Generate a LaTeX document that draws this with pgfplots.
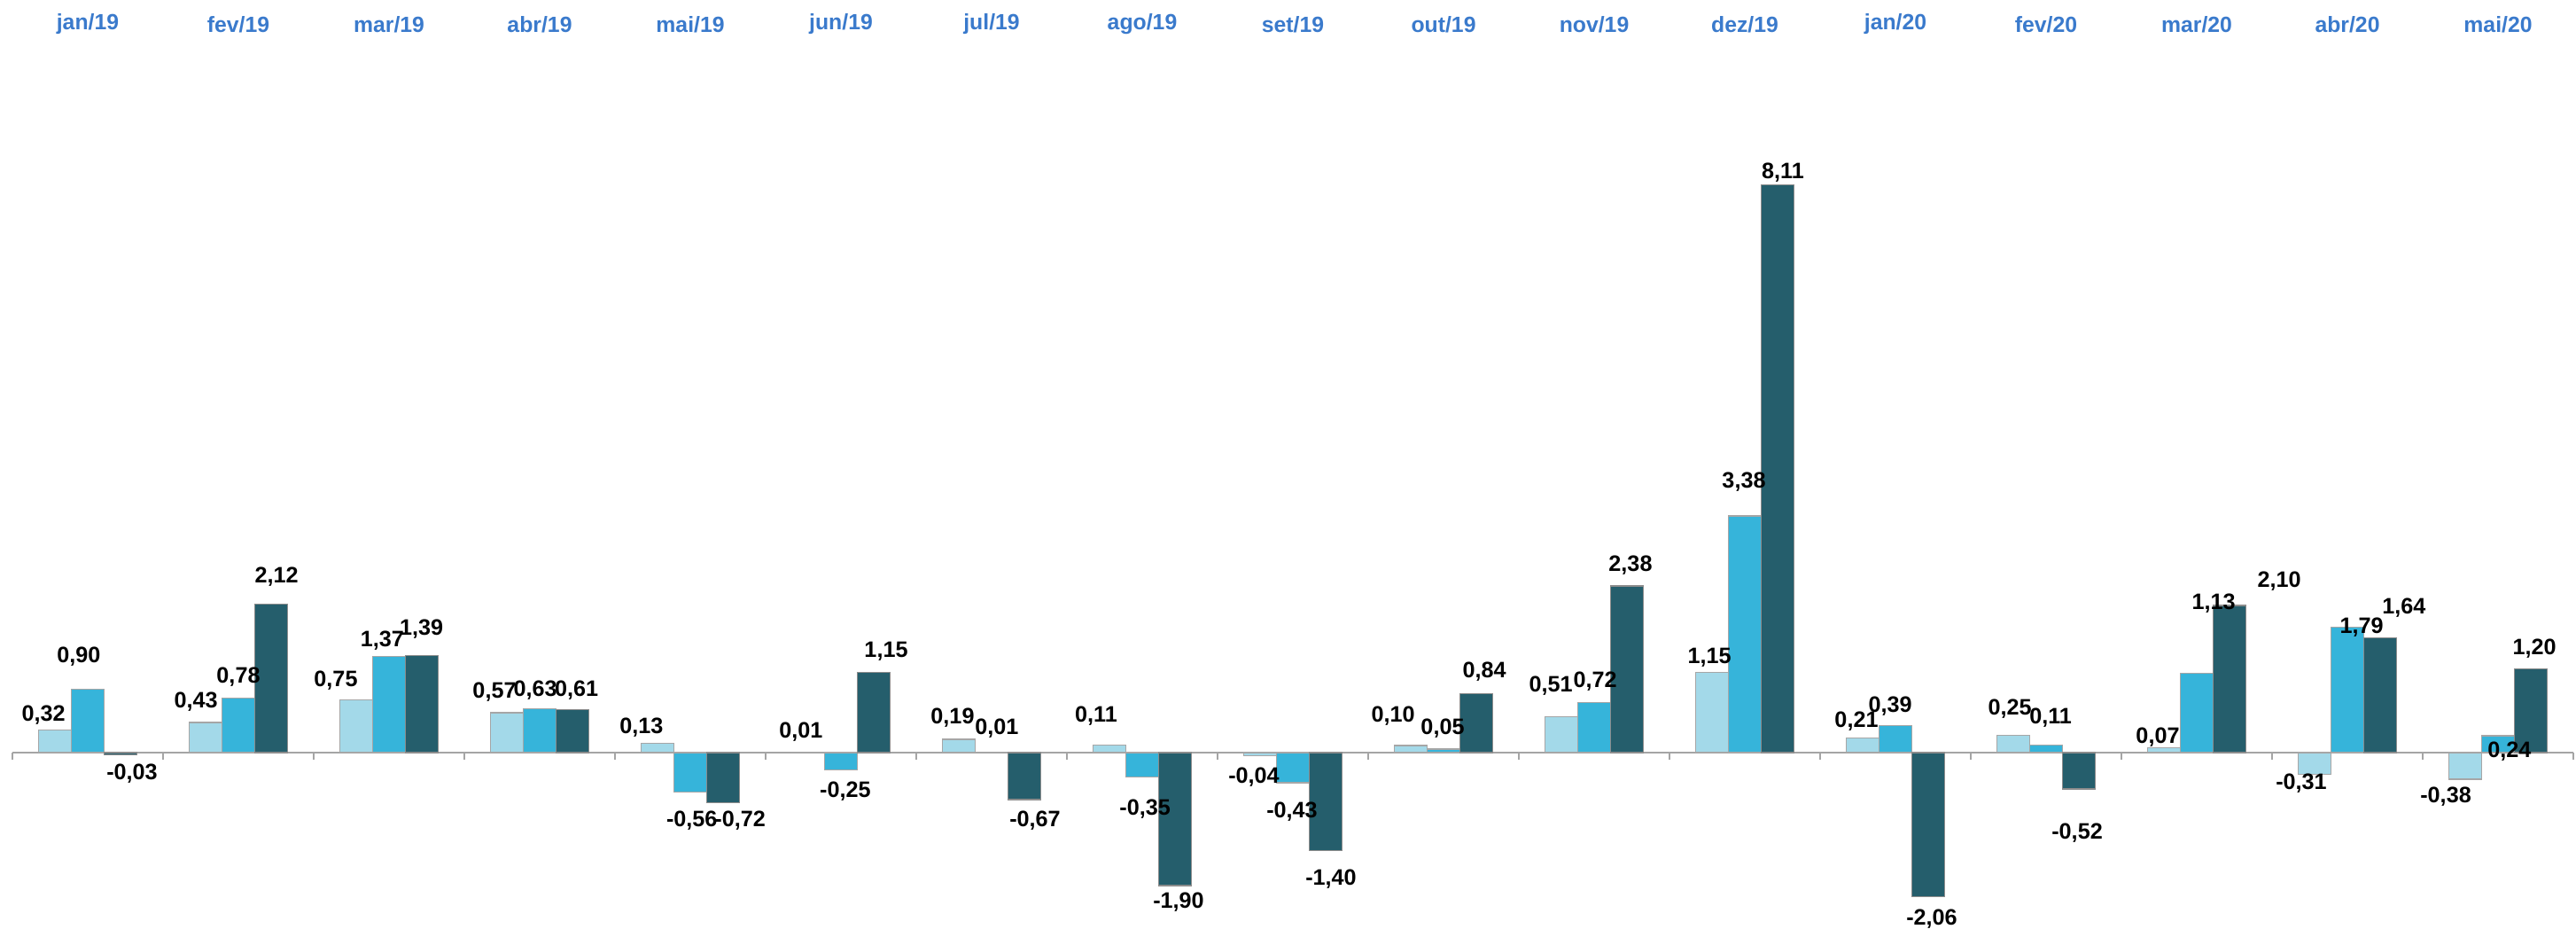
\documentclass[border=0pt]{standalone}
\usepackage{fontspec}
\setmainfont{Liberation Sans}
\usepackage{pgfplots}
\usepackage{pgfplotstable}
\pgfplotsset{compat=1.18}
\definecolor{cLight}{RGB}{163,217,233}
\definecolor{cMed}{RGB}{54,180,218}
\definecolor{cDark}{RGB}{37,94,108}
\definecolor{cMonth}{RGB}{58,122,204}
\definecolor{cAxis}{RGB}{165,165,165}

\pgfplotstableread{
x a b c
0 0.32 0.90 -0.03
1 0.43 0.78 2.12
2 0.75 1.37 1.39
3 0.57 0.63 0.61
4 0.13 -0.56 -0.72
5 0.01 -0.25 1.15
6 0.19 0.01 -0.67
7 0.11 -0.35 -1.90
8 -0.04 -0.43 -1.40
9 0.10 0.05 0.84
10 0.51 0.72 2.38
11 1.15 3.38 8.11
12 0.21 0.39 -2.06
13 0.25 0.11 -0.52
14 0.07 1.13 2.10
15 -0.31 1.79 1.64
16 -0.38 0.24 1.20
}\data

\pgfplotstableread{
x y lab
-0.294 0.53 0,32
-0.059 1.37 0,90
0.294 -0.30 -0,03
0.718 0.72 0,43
1.000 1.08 0,78
1.253 2.51 2,12
1.647 1.03 0,75
1.955 1.60 1,37
2.215 1.76 1,39
2.700 0.86 0,57
2.971 0.89 0,63
3.245 0.89 0,61
3.676 0.36 0,13
4.010 -0.97 -0,56
4.330 -0.97 -0,72
4.735 0.30 0,01
5.029 -0.55 -0,25
5.300 1.45 1,15
5.741 0.50 0,19
6.035 0.35 0,01
6.288 -0.97 -0,67
6.694 0.52 0,11
7.018 -0.81 -0,35
7.241 -2.14 -1,90
7.741 -0.35 -0,04
7.994 -0.84 -0,43
8.253 -1.81 -1,40
8.665 0.52 0,10
8.994 0.34 0,05
9.271 1.15 0,84
9.712 0.95 0,51
10.006 1.02 0,72
10.241 2.68 2,38
10.765 1.36 1,15
10.994 3.86 3,38
11.253 8.28 8,11
11.741 0.45 0,21
11.965 0.66 0,39
12.241 -2.38 -2,06
12.759 0.62 0,25
13.030 0.50 0,11
13.206 -1.15 -0,52
13.741 0.22 0,07
14.112 2.13 1,13
14.547 2.45 2,10
14.694 -0.44 -0,31
15.094 1.79 1,79
15.376 2.07 1,64
15.653 -0.63 -0,38
16.076 0.02 0,24
16.241 1.48 1,20
}\labels

\pgfplotstableread{
x y lab
0 10.40 jan/19
1 10.40 fev/19
2 10.40 mar/19
3 10.40 abr/19
4 10.40 mai/19
5 10.40 jun/19
6 10.40 jul/19
7 10.40 ago/19
8 10.40 set/19
9 10.40 out/19
10 10.40 nov/19
11 10.40 dez/19
12 10.40 jan/20
13 10.40 fev/20
14 10.40 mar/20
15 10.40 abr/20
16 10.40 mai/20
}\months

\begin{document}
\begin{tikzpicture}
\begin{axis}[
  scale only axis,
  width=726.75pt, height=264.25pt,
  xmin=-0.5824, xmax=16.5176,
  ymin=-2.633, ymax=10.747,
  axis lines=box,
  axis line style={draw=none},
  xtick=\empty, ytick=\empty,
  clip=false,
]
% zero line and group ticks
\addplot[cAxis, line width=0.5pt, mark=none] coordinates {(-0.5,0) (16.5,0)};
\addplot[ycomb, cAxis, line width=0.4pt, mark=none] coordinates {
 (-0.5,-0.1) (0.5,-0.1) (1.5,-0.1) (2.5,-0.1) (3.5,-0.1) (4.5,-0.1) (5.5,-0.1)
 (6.5,-0.1) (7.5,-0.1) (8.5,-0.1) (9.5,-0.1) (10.5,-0.1) (11.5,-0.1) (12.5,-0.1)
 (13.5,-0.1) (14.5,-0.1) (15.5,-0.1) (16.5,-0.1)};
% bars
\addplot[ybar, bar width=0.218, bar shift=-0.218, fill=cLight, draw=black!35, line width=0.3pt] table[x=x,y=a]{\data};
\addplot[ybar, bar width=0.218, bar shift=0, fill=cMed, draw=black!35, line width=0.3pt] table[x=x,y=b]{\data};
\addplot[ybar, bar width=0.218, bar shift=0.218, fill=cDark, draw=black!45, line width=0.3pt] table[x=x,y=c]{\data};
% value labels
\addplot[draw=none, mark=none, nodes near coords, point meta=explicit symbolic,
  nodes near coords align={anchor=center},
  every node near coord/.append style={font=\fontsize{6.3}{6.5}\selectfont\bfseries, text=black, inner sep=0pt}]
  table[x=x,y=y,meta=lab]{\labels};
% month labels
\addplot[draw=none, mark=none, nodes near coords, point meta=explicit symbolic,
  nodes near coords align={anchor=center},
  every node near coord/.append style={font=\fontsize{6.2}{6.5}\selectfont\bfseries, text=cMonth, inner sep=0pt}]
  table[x=x,y=y,meta=lab]{\months};
\end{axis}
\end{tikzpicture}
\end{document}
